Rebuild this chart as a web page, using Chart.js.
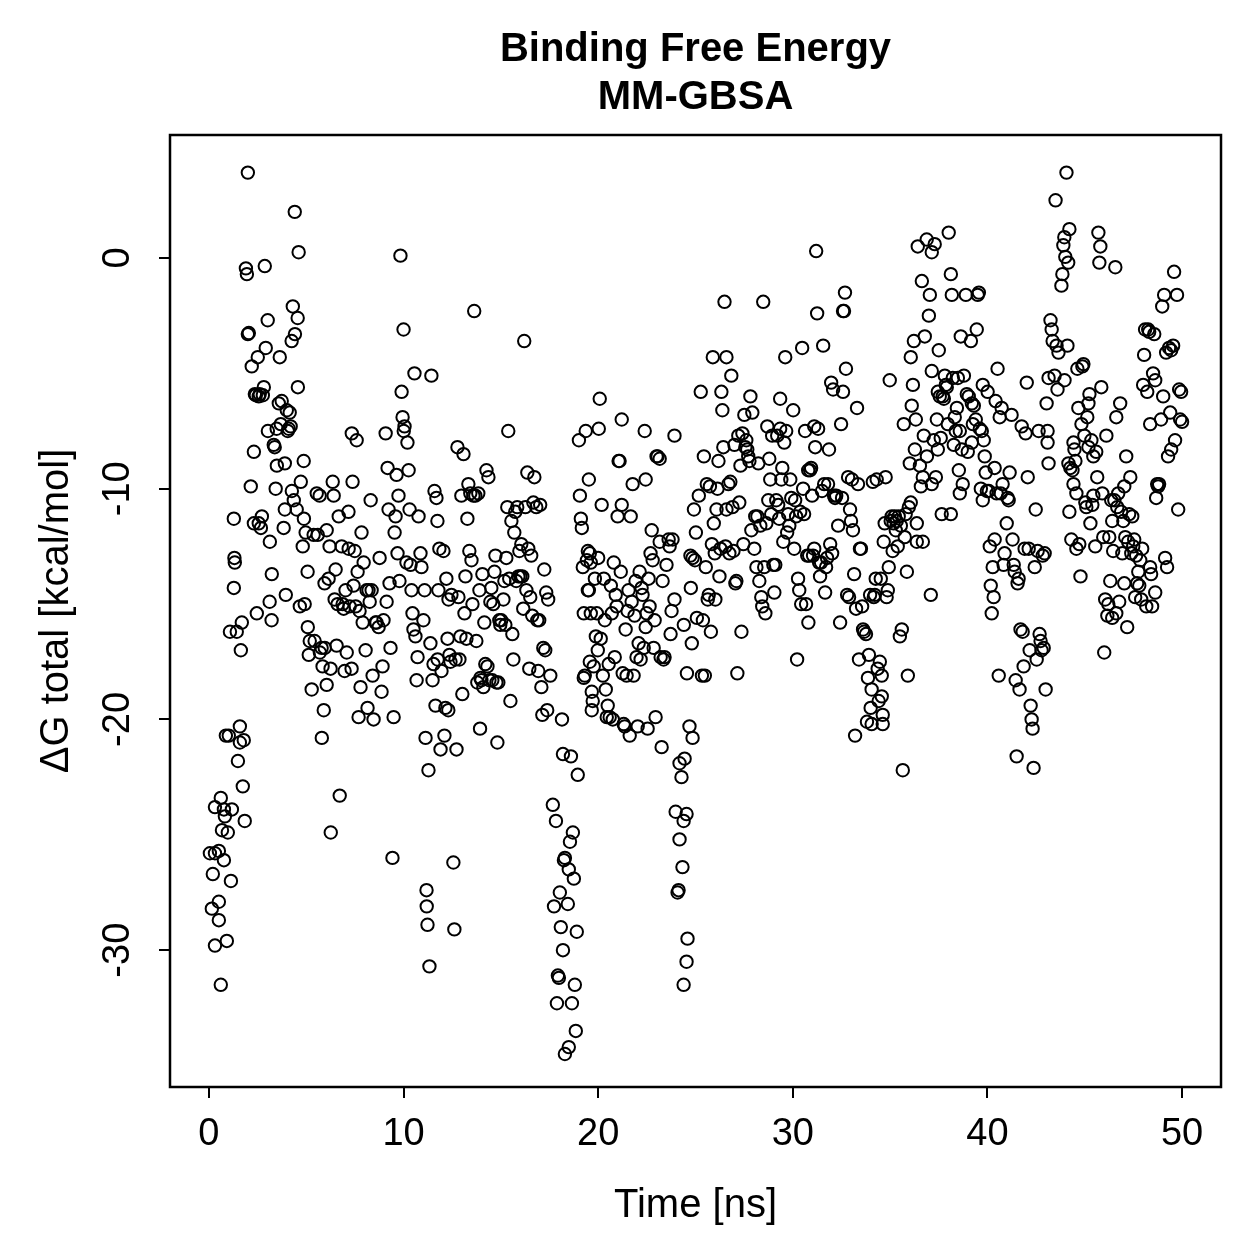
<!DOCTYPE html>
<html>
<head>
<meta charset="utf-8">
<script src="https://cdn.jsdelivr.net/npm/chart.js@4.4.1/dist/chart.umd.min.js"></script>
<style>
html, body { margin: 0; padding: 0; background: #fff; }
#wrap { width: 1259px; height: 1259px; }
</style>
</head>
<body>
<div id="wrap"><canvas id="chart" width="1259" height="1259"></canvas></div>
<script>
// [time ns, dG kcal/mol], grouped by 10 ns
const run0to10 = [
	[0.05,-25.8],[0.31,-25.8],[0.51,-25.7],[0.77,-26.1],[0.20,-26.7],[1.13,-27.0],[0.51,-27.9],[0.15,-28.2],[0.51,-28.7],[0.92,-29.6],
	[0.31,-29.8],[0.61,-31.5],[0.31,-23.8],[0.61,-23.4],[0.82,-24.2],[1.18,-23.9],[0.77,-23.9],[1.84,-24.4],[0.67,-24.8],[0.97,-24.9],
	[1.74,-22.9],[1.49,-21.8],[1.59,-20.3],[0.87,-20.7],[1.02,-20.7],[1.59,-21.0],[1.79,-20.9],[1.64,-17.0],[1.08,-16.2],[1.43,-16.2],
	[1.69,-15.8],[1.28,-11.3],[1.31,-13.0],[1.33,-13.2],[1.28,-14.3],[1.90,-0.45],[1.95,-0.7],[2.00,3.7],[2.05,-3.25],[2.00,-3.3],
	[2.15,-9.9],[2.31,-8.4],[2.20,-4.7],[2.36,-5.9],[2.51,-4.3],[2.61,-5.9],[2.56,-11.5],[2.31,-11.5],[2.46,-15.4],[2.67,-11.7],
	[2.72,-11.2],[2.77,-5.95],[2.82,-5.6],[2.87,-0.35],[2.92,-3.9],[3.02,-2.7],[3.03,-7.5],[3.13,-12.3],[3.12,-14.9],[3.23,-13.7],
	[3.22,-15.7],[3.33,-8.1],[3.38,-8.2],[3.43,-10.0],[3.49,-9.0],[3.48,-7.4],[3.59,-6.3],[3.64,-4.3],[3.74,-6.2],[3.69,-7.2],
	[3.84,-11.7],[3.90,-10.9],[3.95,-14.6],[4.00,-6.6],[4.05,-7.5],[3.90,-8.9],[2.41,-5.95],[2.56,-6.0],
	[4.10,-7.4],[4.15,-6.7],[4.20,-7.3],[4.26,-10.1],[4.25,-3.6],[4.31,-2.1],[4.41,2.0],[4.42,-3.3],[4.51,-10.9],[4.56,-2.6],
	[4.57,-5.6],[4.61,0.25],[4.67,-15.1],[4.82,-12.5],[4.87,-8.8],[4.88,-11.3],[4.92,-15.0],[4.97,-11.9],[5.08,-16.0],[5.07,-13.6],
	[5.13,-17.2],[5.18,-16.6],[5.28,-18.7],[5.38,-12.0],[5.43,-16.6],[5.54,-10.2],[5.59,-12.0],[5.69,-10.3],[5.70,-17.1],[5.79,-16.9],
	[5.84,-17.7],[5.90,-19.6],[5.80,-20.8],[5.95,-16.9],[6.05,-11.8],[5.94,-14.1],[4.72,-9.7],[4.36,-10.5],
	[6.15,-13.9],[6.20,-12.5],[6.26,-24.9],[6.36,-9.7],[6.41,-10.3],[6.46,-14.8],[6.51,-13.5],[6.56,-16.8],[6.61,-15.0],[6.67,-11.2],
	[6.72,-23.3],[6.82,-12.5],[6.87,-15.0],[6.92,-15.2],[6.97,-17.9],[7.02,-14.4],[7.08,-17.1],[7.18,-12.6],[7.17,-11.0],[7.23,-15.1],
	[7.33,-17.8],[7.34,-7.6],[7.38,-9.7],[7.43,-14.2],[7.49,-12.7],[7.54,-15.1],[7.59,-7.9],[7.64,-13.6],[7.69,-19.9],[7.74,-15.3],
	[7.79,-18.6],[7.84,-11.9],[7.90,-15.8],[7.95,-13.2],[6.05,-18.5],[6.25,-17.8],
	[8.05,-17.0],[8.10,-14.4],[8.15,-19.5],[8.20,-14.4],[8.26,-14.9],[8.31,-10.5],[8.36,-14.4],[8.41,-18.1],[8.46,-20.0],[8.56,-15.8],
	[8.61,-15.8],[8.72,-16.0],[8.77,-13.0],[8.87,-18.8],[8.92,-17.7],[8.97,-15.7],[9.08,-7.6],[9.13,-14.9],[9.18,-9.1],[9.23,-10.9],
	[9.28,-14.1],[9.33,-16.9],[9.43,-26.0],[9.49,-19.9],[9.54,-11.9],[9.59,-11.2],[9.64,-9.4],[9.69,-12.8],[9.74,-10.3],[9.79,-14.0],
	[9.84,0.1],[9.90,-5.8],[9.95,-6.9],[10.00,-3.1],[10.01,-7.5]
];

const run10to20 = [
	[10.05,-7.3],[10.15,-13.2],[10.20,-8.0],[10.26,-9.2],[10.31,-10.9],[10.36,-13.3],[10.41,-14.4],[10.46,-15.4],[10.51,-16.1],[10.56,-5.0],
	[10.61,-16.4],[10.67,-18.3],[10.72,-17.3],[10.77,-11.2],[10.87,-12.8],[10.92,-13.4],[11.02,-15.7],[11.08,-14.4],[11.13,-20.8],[11.18,-27.4],
	[11.19,-28.1],[11.23,-28.9],[11.28,-22.2],[11.33,-30.7],[11.38,-16.7],[11.43,-5.1],[11.49,-18.3],[11.54,-17.6],[11.59,-10.1],[11.64,-19.4],
	[11.69,-10.4],[11.74,-11.4],[11.75,-17.4],[11.79,-14.4],[11.84,-12.6],[11.90,-21.3],[11.95,-17.9],
	[12.05,-12.7],[12.10,-20.7],[12.15,-19.5],[12.20,-13.9],[12.26,-16.5],[12.31,-14.8],[12.36,-17.2],[12.41,-17.5],[12.46,-14.6],[12.56,-26.2],
	[12.61,-29.1],[12.67,-17.4],[12.72,-21.3],[12.77,-8.2],[12.82,-14.7],[12.87,-17.4],[12.92,-16.4],[12.97,-10.3],[13.02,-18.9],[13.08,-8.5],
	[13.13,-15.4],[13.18,-13.8],[13.23,-16.5],[13.28,-11.3],[13.33,-9.8],[13.38,-12.7],[13.43,-10.2],[13.49,-13.1],[13.54,-15.0],[13.59,-10.3],
	[13.69,-10.3],[13.74,-16.6],[13.79,-18.4],[13.84,-10.2],[13.90,-14.4],[13.95,-18.2],[14.00,-18.3],[12.30,-19.6],[13.93,-20.4],[13.63,-2.3],
	[14.05,-13.7],[14.10,-18.6],[14.15,-15.8],[14.20,-17.6],[14.26,-9.2],[14.31,-17.7],[14.36,-9.5],[14.41,-18.3],[14.46,-14.9],[14.51,-14.3],
	[14.56,-18.3],[14.61,-15.0],[14.67,-13.6],[14.72,-12.9],[14.77,-18.4],[14.82,-21.0],[14.87,-18.4],[14.92,-15.7],[14.97,-15.9],[15.02,-15.7],
	[15.13,-14.8],[15.18,-14.0],[15.23,-15.9],[15.28,-13.0],[15.33,-10.8],[15.38,-7.5],[15.43,-13.9],[15.49,-19.2],[15.54,-11.4],[15.59,-16.3],
	[15.64,-17.4],[15.69,-11.9],[15.74,-11.0],[15.79,-14.0],[15.84,-10.8],[15.90,-13.8],[15.95,-12.7],[16.00,-13.8],
	[16.05,-12.4],[16.10,-13.8],[16.15,-15.2],[16.20,-3.6],[16.26,-10.8],[16.31,-14.4],[16.36,-9.3],[16.41,-12.6],[16.46,-17.8],[16.51,-14.7],
	[16.56,-12.9],[16.61,-15.5],[16.67,-10.6],[16.72,-9.5],[16.82,-10.8],[16.87,-15.7],[16.92,-17.9],[16.97,-15.7],[17.02,-10.7],[17.08,-18.6],
	[17.13,-19.8],[17.18,-16.9],[17.23,-13.5],[17.28,-17.0],[17.33,-14.5],[17.38,-19.6],[17.43,-14.8],[17.54,-18.1],
	[17.67,-23.7],[17.83,-24.4],[18.70,-24.9],[18.55,-25.3],[18.29,-26.0],[18.24,-26.1],[18.49,-26.5],[18.75,-26.9],[18.03,-27.5],[17.73,-28.1],
	[18.44,-28.0],[18.08,-29.0],[18.90,-29.2],[18.19,-30.0],[17.98,-31.2],[17.93,-31.1],[18.80,-31.5],[17.88,-32.3],[18.65,-32.3],[18.85,-33.5],
	[18.49,-34.2],[18.29,-34.5],[18.19,-21.5],[18.60,-21.6],[18.95,-22.4],[18.14,-20.0],
	[19.01,-7.9],[19.06,-10.3],[19.11,-11.3],[19.16,-11.7],[19.21,-13.4],[19.26,-15.4],[19.31,-18.1],[19.36,-7.5],[19.42,-13.1],[19.47,-12.7],
	[19.52,-14.4],[19.57,-17.5],[19.62,-15.4],[19.67,-18.8],[19.72,-19.2],[19.77,-17.7],[19.83,-13.9],[19.88,-16.4],[19.93,-15.4],[19.98,-17.0],
	[19.26,-18.2],[19.67,-19.6],[19.52,-9.6],[19.57,-12.8],[19.62,-13.2],[19.47,-14.4]
];

const run20to30 = [
	[20.03,-7.4],[20.08,-6.1],[20.13,-16.5],[20.18,-10.7],[20.24,-18.1],[20.29,-13.9],[20.34,-15.7],[20.39,-18.7],[20.44,-19.9],[20.49,-19.4],
	[20.54,-17.6],[20.59,-19.9],[20.65,-14.2],[20.70,-15.4],[20.75,-20.0],[20.80,-13.2],[20.85,-17.3],[20.90,-14.6],[20.95,-15.1],[21.05,-8.8],
	[21.10,-8.8],[21.16,-13.6],[21.21,-7.0],[21.26,-18.0],[21.31,-20.2],[21.36,-20.3],[21.41,-16.1],[21.46,-18.1],[21.51,-15.3],[21.56,-14.4],
	[21.62,-20.7],[21.67,-11.2],[21.72,-14.9],[21.77,-9.8],[21.82,-18.1],[21.87,-15.5],[21.92,-14.0],[21.97,-17.3],[21.00,-11.2],[21.21,-10.7],
	[20.00,-13.0],
	[22.03,-20.3],[22.08,-16.7],[22.13,-13.6],[22.18,-17.4],[22.23,-14.3],[22.28,-14.6],[22.34,-16.9],[22.39,-7.5],[22.44,-16.0],[22.49,-15.4],
	[22.54,-20.4],[22.59,-13.9],[22.64,-15.1],[22.69,-12.8],[22.75,-11.8],[22.80,-13.1],[22.85,-16.9],[22.90,-15.7],[22.95,-19.9],[23.00,-8.6],
	[23.05,-8.6],[23.16,-8.7],[23.21,-17.3],[23.26,-21.2],[23.31,-14.0],[23.36,-17.4],[23.41,-17.3],[23.51,-13.3],[23.62,-12.2],[23.67,-12.5],
	[23.72,-16.3],[23.77,-15.3],[23.82,-12.2],[23.92,-14.8],[22.44,-9.6],[23.92,-7.7],[23.16,-12.3],
	[23.98,-24.0],[24.54,-24.1],[24.39,-24.4],[24.18,-25.2],[24.33,-26.4],[24.08,-27.5],[24.13,-27.4],[24.59,-29.5],[24.54,-30.5],[24.39,-31.5],
	[24.69,-20.3],[24.85,-20.8],[24.18,-21.9],[24.44,-21.7],[24.28,-22.5],
	[24.40,-15.9],[24.56,-18.0],[24.76,-14.3],[24.81,-16.7],[24.92,-10.9],[24.97,-13.1],[25.02,-11.9],[25.07,-15.6],[25.17,-10.3],[25.27,-5.8],
	[25.33,-18.1],[25.38,-15.7],[25.43,-8.6],[25.48,-18.1],[25.53,-13.4],[25.58,-9.8],[25.63,-14.8],[25.68,-14.6],[25.74,-9.9],[25.79,-16.2],
	[25.84,-12.4],[25.89,-4.3],[25.94,-11.5],[25.99,-12.8],[24.74,-12.9],[24.85,-13.0],
	[26.02,-14.8],[26.08,-10.9],[26.13,-10.0],[26.18,-8.8],[26.23,-13.8],[26.28,-12.6],[26.33,-5.8],[26.38,-6.6],[26.43,-8.2],[26.49,-1.9],
	[26.54,-12.5],[26.59,-10.9],[26.69,-9.8],[26.74,-12.8],[26.79,-9.7],[26.84,-5.1],[26.90,-10.8],[26.95,-12.7],[27.00,-8.1],[27.05,-14.1],
	[27.10,-14.0],[27.15,-18.0],[27.20,-7.7],[27.25,-10.6],[27.31,-9.0],[27.36,-16.2],[27.41,-7.6],[27.46,-12.4],[27.51,-6.8],[27.56,-8.2],
	[27.61,-7.9],[27.66,-8.3],[27.71,-8.6],[27.77,-8.8],[27.82,-6.0],[27.87,-11.8],[27.92,-6.7],[26.59,-4.3],
	[28.02,-12.6],[28.07,-11.2],[28.13,-13.4],[28.18,-11.2],[28.23,-8.9],[28.28,-14.0],[28.33,-11.6],[28.38,-14.7],[28.43,-15.1],[28.48,-1.9],
	[28.53,-13.4],[28.59,-15.4],[28.64,-11.5],[28.69,-7.3],[28.74,-10.5],[28.79,-8.7],[28.84,-9.6],[28.89,-11.1],[28.94,-7.7],[29.00,-13.3],
	[29.05,-14.5],[29.10,-13.3],[29.15,-10.5],[29.20,-7.7],[29.25,-10.7],[29.30,-11.3],[29.35,-7.4],[29.41,-9.6],[29.46,-9.1],[29.51,-12.3],
	[29.56,-8.0],[29.61,-4.3],[29.66,-7.5],[29.71,-11.9],[29.76,-11.1],[29.82,-11.6],[29.87,-9.6],[29.92,-10.4],[29.35,-6.1]
];

const run30to40 = [
	[30.02,-6.6],[30.07,-12.6],[30.12,-10.5],[30.17,-11.2],[30.22,-17.4],[30.27,-13.9],[30.33,-14.4],[30.38,-11.0],[30.43,-15.0],[30.48,-3.9],
	[30.53,-10.0],[30.58,-11.1],[30.63,-7.5],[30.68,-15.0],[30.74,-12.9],[30.79,-9.2],[30.84,-12.9],[30.89,-9.2],[30.94,-9.1],[30.99,-10.3],
	[31.04,-12.9],[31.10,-12.6],[31.15,-8.2],[31.20,0.3],[31.25,-2.4],[31.30,-7.4],[31.35,-13.2],[31.40,-13.8],[31.45,-13.2],[31.50,-10.1],
	[31.56,-3.8],[31.61,-9.8],[31.66,-14.5],[31.71,-13.4],[31.76,-13.0],[31.81,-9.8],[31.86,-8.3],[31.92,-12.4],[31.97,-5.4],[30.80,-15.8],
	[31.10,-7.3],
	[32.02,-12.8],[32.07,-5.7],[32.12,-10.3],[32.17,-10.4],[32.23,-10.3],[32.33,-11.6],[32.43,-15.8],[32.53,-10.4],[32.58,-2.3],[32.63,-2.3],
	[32.68,-1.5],[32.73,-4.8],[32.79,-14.6],[32.84,-9.5],[32.89,-14.7],[32.94,-10.9],[32.99,-11.4],[33.04,-9.6],[33.09,-11.8],[33.15,-13.7],
	[33.20,-20.7],[33.25,-15.2],[33.30,-6.5],[33.35,-9.8],[33.40,-17.4],[33.45,-12.6],[33.50,-12.6],[33.56,-15.1],[33.61,-16.1],[33.66,-16.2],
	[33.76,-16.3],[33.81,-20.1],[33.86,-18.2],[33.91,-17.2],[33.97,-14.6],[32.58,-5.8],[32.48,-7.2],
	[34.00,-19.5],[34.05,-18.7],[34.11,-9.7],[34.16,-14.7],[34.21,-14.6],[34.26,-13.9],[34.31,-9.6],[34.36,-17.8],[34.41,-19.2],[34.47,-17.5],
	[34.52,-13.9],[34.57,-18.1],[34.62,-19.8],[34.67,-12.3],[34.72,-11.5],[34.77,-9.5],[34.82,-14.7],[34.88,-14.4],[34.93,-13.4],[34.98,-5.3],
	[35.03,-11.4],[35.08,-11.2],[35.13,-12.7],[35.18,-11.5],[35.24,-11.2],[35.29,-11.8],[35.34,-11.4],[35.39,-12.5],[35.44,-11.2],[35.50,-16.4],
	[35.55,-11.6],[35.60,-16.1],[35.65,-22.2],[35.70,-7.2],[35.75,-12.1],[35.80,-11.1],[35.86,-13.6],[35.91,-18.1],[35.96,-10.8],[34.05,-20.2],
	[34.62,-20.2],[34.57,-19.0],
	[36.01,-8.9],[36.06,-4.3],[36.11,-6.4],[36.17,-5.5],[36.22,-3.6],[36.27,-8.3],[36.32,-7.0],[36.37,-11.5],[36.42,0.5],[36.53,-9.0],
	[36.58,-9.9],[36.63,-1.0],[36.68,-9.5],[36.73,-7.7],[36.78,-3.4],[36.88,0.8],[37.14,0.25],[36.99,-2.5],[37.04,-1.6],[37.09,-14.6],
	[37.14,-4.9],[37.24,-7.9],[37.29,0.6],[37.35,-9.5],[37.40,-7.0],[37.45,-5.8],[37.50,-4.0],[37.55,-6.0],[37.60,-7.8],[37.65,-11.1],
	[37.70,-6.0],[37.76,-6.1],[37.81,-5.1],[37.86,-5.5],[37.91,-5.6],[37.96,-7.2],[36.89,-8.6],[37.45,-8.3],[36.06,-10.6],[36.37,-12.3],
	[36.68,-12.3],[37.14,-9.8],
	[38.01,1.1],[38.12,-0.7],[38.17,-1.6],[38.22,-5.2],[38.27,-8.1],[38.32,-6.9],[38.37,-7.5],[38.43,-6.5],[38.48,-5.2],[38.53,-9.2],
	[38.58,-7.5],[38.63,-3.4],[38.68,-8.3],[38.73,-9.8],[38.79,-5.1],[38.89,-1.6],[38.94,-5.9],[38.99,-8.4],[39.04,-6.0],[39.15,-3.6],
	[39.20,-6.3],[39.25,-7.2],[39.30,-6.4],[39.40,-7.0],[39.45,-3.1],[39.50,-1.6],[39.56,-1.5],[39.61,-7.4],[39.66,-10.0],[39.71,-7.5],
	[39.76,-5.5],[39.81,-7.9],[39.86,-8.6],[39.91,-9.3],[39.97,-10.1],[38.58,-10.2],[38.12,-11.1],[39.20,-8.0],[39.76,-10.5]
];

const run40to50 = [
	[40.01,-5.8],[40.07,-10.1],[40.12,-12.5],[40.17,-14.2],[40.22,-15.4],[40.27,-13.4],[40.32,-14.7],[40.37,-12.2],[40.42,-6.2],[40.47,-10.2],
	[40.52,-4.8],[40.58,-18.1],[40.63,-6.9],[40.68,-10.2],[40.73,-6.5],[40.83,-13.3],[40.88,-12.8],[40.99,-11.5],[41.04,-10.4],[41.09,-10.5],
	[41.14,-9.3],[41.24,-6.8],[41.29,-12.2],[41.35,-13.3],[41.40,-13.6],[41.45,-18.3],[41.50,-21.6],[41.55,-14.1],[41.60,-13.9],[41.65,-18.7],
	[41.70,-16.1],[41.76,-7.3],[41.81,-16.2],[41.86,-17.7],[41.91,-12.6],[41.96,-7.6],[40.37,-9.1],[40.78,-9.8],
	[42.02,-5.4],[42.07,-9.5],[42.12,-12.6],[42.17,-17.0],[42.22,-19.4],[42.27,-20.0],[42.32,-20.4],[42.37,-22.1],[42.43,-13.4],[42.48,-10.9],
	[42.53,-17.4],[42.58,-12.7],[42.63,-7.5],[42.68,-16.3],[42.73,-16.6],[42.78,-17.0],[42.84,-12.9],[42.89,-16.9],[42.94,-12.8],[42.99,-18.7],
	[43.04,-6.3],[43.09,-7.5],[43.14,-5.2],[43.24,-2.7],[43.30,-3.1],[43.35,-3.6],[43.45,-5.1],[43.50,2.5],[43.55,-3.8],[43.60,-5.7],
	[43.65,-4.1],[43.90,0.55],[43.95,0.9],[44.00,0.05],[44.15,-0.2],[44.21,1.25],[43.80,-1.2],[43.85,-0.7],[43.96,-5.3],[43.09,-8.0],
	[43.14,-8.9],
	[44.06,3.7],[44.11,-3.8],[44.16,-8.9],[44.21,-11.0],[44.26,-9.1],[44.31,-12.2],[44.37,-9.2],[44.42,-8.0],[44.47,-8.3],[44.52,-8.8],
	[44.57,-10.2],[44.62,-4.8],[44.67,-6.5],[44.72,-12.4],[44.78,-13.8],[44.83,-7.2],[44.88,-4.7],[44.93,-4.6],[44.98,-7.7],[45.03,-10.6],
	[45.08,-10.8],[45.13,-6.9],[45.19,-6.3],[45.24,-5.9],[45.29,-11.5],[45.34,-7.9],[45.39,-10.7],[45.44,-10.3],[45.54,-12.5],[45.59,-8.4],
	[45.64,-9.5],[45.70,1.1],[45.75,-0.2],[45.80,0.5],[45.85,-5.6],[45.90,-10.2],[45.95,-12.1],[44.42,-9.8],[44.57,-12.6],[45.19,-8.2],
	[45.44,-8.6],
	[46.00,-17.1],[46.05,-14.8],[46.11,-7.7],[46.16,-15.5],[46.21,-15.0],[46.26,-12.1],[46.31,-14.0],[46.36,-10.5],[46.41,-11.4],[46.46,-12.7],
	[46.52,-10.5],[46.57,-0.4],[46.62,-6.9],[46.67,-10.8],[46.72,-10.2],[46.77,-14.9],[46.82,-6.3],[46.87,-11.0],[46.93,-12.8],[46.98,-11.4],
	[47.03,-14.1],[47.08,-12.1],[47.13,-8.6],[47.18,-16.0],[47.23,-12.3],[47.28,-11.1],[47.34,-9.5],[47.39,-12.8],[47.44,-11.2],[47.49,-12.5],
	[47.54,-12.2],[47.59,-14.7],[47.64,-12.9],[47.69,-14.1],[47.75,-13.6],[47.80,-14.2],[47.85,-13.1],[47.90,-14.8],[47.95,-12.6],[46.62,-15.4],
	[46.41,-15.6],[47.03,-9.9],
	[48.00,-5.5],[48.05,-4.2],[48.10,-3.1],[48.16,-15.1],[48.21,-5.8],[48.26,-3.1],[48.31,-3.2],[48.36,-13.4],[48.41,-13.7],[48.46,-15.1],
	[48.51,-5.0],[48.57,-3.3],[48.62,-5.3],[48.67,-10.4],[48.72,-9.8],[48.77,-9.9],[48.82,-9.8],[48.92,-7.0],[48.98,-2.1],[49.03,-6.0],
	[49.08,-1.6],[49.13,-13.0],[49.18,-4.1],[49.23,-13.4],[49.28,-8.6],[49.33,-3.9],[49.39,-6.7],[49.44,-4.0],[49.54,-3.8],[49.59,-0.6],
	[49.64,-7.9],[49.74,-1.6],[49.80,-10.9],[49.85,-5.7],[49.90,-7.0],[49.95,-5.8],[50.00,-7.1],[48.62,-14.5],[49.44,-8.3],[48.36,-7.2]
];

const xTicks = [0, 10, 20, 30, 40, 50];
const yTicks = [-30, -20, -10, 0];
const titleLines = ['Binding Free Energy', 'MM-GBSA'];
const xLabel = 'Time [ns]';
const yLabel = 'ΔG total [kcal/mol]';

const FONT = "'Liberation Sans', Arial, Helvetica, sans-serif";

const points = [].concat(run0to10, run10to20, run20to30, run30to40, run40to50)
	.map(([t, g]) => ({ x: t, y: g }));

// box, main title and axis titles, R style
const frame = {
	id: 'frame',
	afterDatasetsDraw(chart) {
		const { ctx, chartArea: a } = chart;
		ctx.save();
		ctx.strokeStyle = '#000';
		ctx.lineWidth = 2.5;
		ctx.strokeRect(a.left, a.top, a.right - a.left, a.bottom - a.top);
		ctx.restore();
	},
	afterDraw(chart) {
		const { ctx, chartArea: a } = chart;
		const cx = (a.left + a.right) / 2;
		ctx.save();
		ctx.fillStyle = '#000';
		ctx.textAlign = 'center';
		ctx.textBaseline = 'alphabetic';
		ctx.font = 'bold 40px ' + FONT;
		ctx.fillText(titleLines[0], cx, 61);
		ctx.fillText(titleLines[1], cx, 109);
		ctx.font = '40px ' + FONT;
		ctx.fillText(xLabel, cx, 1217);
		ctx.translate(68, (a.top + a.bottom) / 2);
		ctx.rotate(-Math.PI / 2);
		ctx.fillText(yLabel, 0, 0);
		ctx.restore();
	}
};

new Chart(document.getElementById('chart'), {
	type: 'scatter',
	data: {
		datasets: [{
			data: points,
			pointStyle: 'circle',
			pointRadius: 6.2,
			pointBorderWidth: 2,
			pointBorderColor: '#000',
			pointBackgroundColor: 'rgba(0,0,0,0)'
		}]
	},
	options: {
		responsive: false,
		animation: false,
		events: [],
		devicePixelRatio: 1,
		layout: { padding: { top: 135, right: 38, left: 0, bottom: 0 } },
		plugins: { legend: { display: false }, tooltip: { enabled: false }, title: { display: false } },
		scales: {
			x: {
				type: 'linear',
				min: -2,
				max: 52,
				afterBuildTicks: s => { s.ticks = xTicks.map(v => ({ value: v })); },
				afterFit: s => { s.height = 172; },
				border: { display: false },
				grid: { drawOnChartArea: false, drawTicks: true, tickLength: 11, color: '#000', lineWidth: 2 },
				ticks: { color: '#000', font: { family: FONT, size: 38 }, padding: 14, maxRotation: 0, callback: v => String(v) }
			},
			y: {
				type: 'linear',
				min: -35.93,
				max: 5.33,
				afterBuildTicks: s => { s.ticks = yTicks.map(v => ({ value: v })); },
				afterFit: s => { s.width = 170; },
				border: { display: false },
				grid: { drawOnChartArea: false, drawTicks: true, tickLength: 11, color: '#000', lineWidth: 2 },
				ticks: { color: '#000', font: { family: FONT, size: 38 }, padding: 13, minRotation: 90, maxRotation: 90, crossAlign: 'center', callback: v => String(v) }
			}
		}
	},
	plugins: [frame]
});
</script>
</body>
</html>
